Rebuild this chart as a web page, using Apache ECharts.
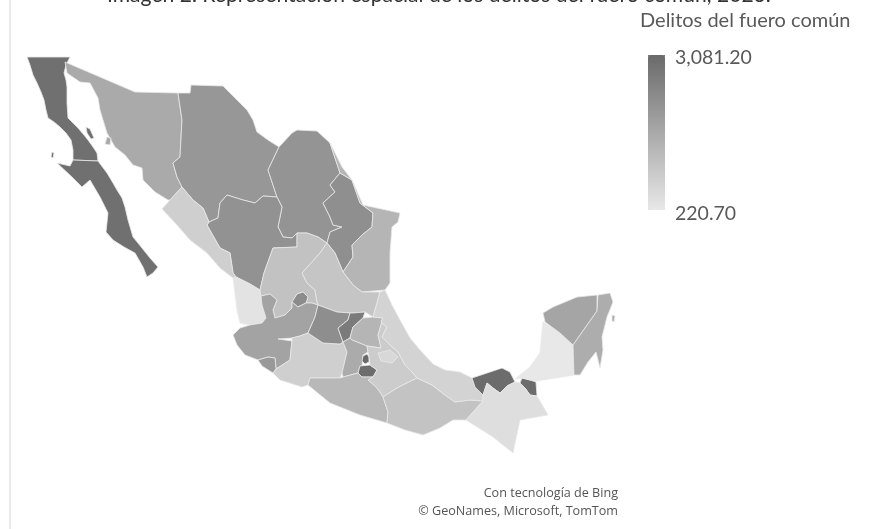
<!DOCTYPE html>
<html><head><meta charset="utf-8">
<style>html,body{margin:0;padding:0;background:#fff;overflow:hidden}#c{width:870px;height:529px}#c canvas{filter:blur(.7px)}</style>
<script src="https://cdn.jsdelivr.net/npm/echarts@6/dist/echarts.min.js"></script>
</head><body><div id="c"></div>
<script>
const chartTitle = 'Imagen 2. Representación espacial de los delitos del fuero común, 2023.';
const legendTitle = 'Delitos del fuero común';
const legendMaxLabel = '3,081.20';
const legendMinLabel = '220.70';
const creditLines = ['Con tecnología de Bing', '© GeoNames, Microsoft, TomTom'];
const minValue = 220.7;
const maxValue = 3081.2;

const states = ['Baja California','Baja California Sur','Sonora','Chihuahua','Coahuila','Nuevo León','Tamaulipas','Durango','Sinaloa','Nayarit','Zacatecas','San Luis Potosí','Aguascalientes','Jalisco','Colima','Michoacán','Guanajuato','Querétaro','Hidalgo','México','Ciudad de México','Morelos','Puebla','Tlaxcala','Guerrero','Oaxaca','Veracruz','Tabasco','Chiapas','Campeche','Yucatán','Quintana Roo'];
const crimes = [2950,2950,1628,2060,2128,2241,1379,2173,789,335,1084,1016,2309,1787,2014,789,2264,2695,1379,1606,3081.2,3013,857,584,1311,1061,698,3030,448,220.7,1742,1560];

// Traced state outlines, in map units (one list of rings per state)
const outlines = {
'Baja California':[[[27,57],[70,57],[66,65],[64,73],[66,80],[67,87],[67,103],[68,118],[74,124],[78,128],[84,135],[88,140],[93,147],[97,153],[98,161],[73,160],[73,150],[71,140],[66,133],[60,127],[54,122],[48,118],[46,110],[44,100],[41,92],[37,83],[33,75],[30,65]],[[86,127],[90,129],[94,138],[91,139],[87,133]],[[52,152],[54,153],[53,158],[51,157]]],
'Baja California Sur':[[[73,160],[98,161],[107,173],[113,183],[117,190],[122,198],[125,207],[128,220],[133,237],[138,243],[142,248],[150,258],[158,267],[153,273],[147,277],[143,267],[135,253],[124,247],[113,240],[106,232],[108,213],[100,197],[90,180],[82,187],[72,177],[57,163],[70,166]]],
'Sonora':[[[65,62],[100,77],[135,92],[178,93],[182,120],[180,157],[173,163],[177,177],[182,187],[170,200],[168,200],[155,192],[143,180],[142,168],[133,165],[125,155],[115,147],[107,133],[103,120],[100,110],[98,98],[90,83],[80,82],[67,73]],[[107,137],[111,138],[110,145],[105,144]]],
'Chihuahua':[[[178,93],[190,93],[191,85],[223,86],[240,103],[247,110],[253,120],[257,132],[268,140],[279,147],[268,170],[277,197],[263,196],[255,203],[243,200],[227,195],[220,203],[218,218],[209,222],[203,208],[193,200],[182,187],[177,177],[173,163],[180,157],[182,120]]],
'Coahuila':[[[279,147],[292,133],[297,130],[317,131],[330,143],[340,173],[330,185],[335,192],[323,203],[330,217],[333,225],[342,227],[330,232],[327,243],[318,237],[307,233],[297,233],[292,238],[283,237],[278,227],[282,207],[277,197],[268,170]]],
'Nuevo León':[[[340,173],[352,180],[360,203],[373,213],[372,227],[362,235],[352,245],[353,257],[343,272],[335,253],[327,243],[330,232],[342,227],[333,225],[330,217],[323,203],[335,192],[330,185]]],
'Tamaulipas':[[[330,143],[342,167],[352,180],[363,205],[400,213],[398,222],[392,227],[390,253],[390,283],[385,290],[362,292],[353,285],[343,272],[353,257],[352,245],[362,235],[372,227],[373,213],[360,203],[352,180],[340,173]]],
'Durango':[[[209,222],[218,218],[220,203],[227,195],[243,200],[255,203],[263,196],[277,197],[282,207],[278,227],[283,237],[292,238],[297,233],[297,247],[273,248],[264,273],[260,290],[250,284],[236,277],[233,273],[230,253],[220,248],[207,225]]],
'Sinaloa':[[[162,209],[170,200],[182,187],[193,200],[203,208],[209,222],[207,225],[220,248],[230,253],[233,273],[236,277],[233,278],[220,268],[207,253],[190,240],[177,225]]],
'Nayarit':[[[233,278],[236,277],[250,284],[260,290],[261,296],[262,305],[266,318],[262,323],[250,325],[240,323],[237,310],[235,293]]],
'Zacatecas':[[[260,290],[264,273],[273,248],[297,247],[297,233],[307,233],[318,237],[327,243],[320,253],[302,273],[307,283],[315,290],[317,302],[318,305],[312,303],[306,303],[308,297],[303,292],[297,294],[292,302],[292,308],[285,315],[275,318],[273,310],[277,300],[270,294],[261,296]]],
'San Luis Potosí':[[[327,243],[335,253],[343,272],[353,285],[362,292],[380,292],[377,303],[373,317],[365,312],[353,313],[350,313],[337,312],[318,305],[317,302],[315,290],[307,283],[302,273],[320,253]]],
'Aguascalientes':[[[297,294],[303,292],[308,297],[306,303],[298,307],[292,302]]],
'Jalisco':[[[233,335],[240,328],[250,325],[262,323],[266,318],[262,305],[261,296],[270,294],[277,300],[273,310],[275,318],[285,315],[292,308],[292,302],[298,307],[306,303],[312,303],[318,305],[315,317],[308,333],[300,336],[292,338],[278,339],[292,341],[290,360],[276,369],[275,358],[268,357],[258,360],[245,355],[237,345]]],
'Colima':[[[258,360],[268,357],[275,358],[276,369],[273,373],[262,366]]],
'Michoacán':[[[292,338],[300,336],[308,333],[323,343],[340,344],[343,342],[347,352],[342,373],[340,378],[310,378],[308,385],[302,387],[280,380],[273,373],[276,369],[290,360],[292,341]]],
'Guanajuato':[[[318,305],[337,312],[350,313],[348,320],[338,328],[343,342],[340,344],[323,343],[308,333],[315,317]]],
'Querétaro':[[[350,313],[353,313],[365,312],[363,318],[353,327],[350,338],[343,342],[338,328],[348,320]]],
'Hidalgo':[[[363,318],[373,317],[383,318],[378,335],[381,348],[367,346],[352,340],[350,338],[353,327]]],
'México':[[[352,340],[367,346],[368,352],[363,355],[362,366],[360,366],[358,373],[343,377],[342,373],[347,352],[343,342],[350,338]]],
'Ciudad de México':[[[363,356],[367,354],[369,357],[369,362],[365,364],[362,361]]],
'Morelos':[[[360,366],[370,365],[377,370],[373,377],[362,377],[358,373]]],
'Puebla':[[[383,318],[381,322],[387,327],[382,337],[390,345],[398,352],[405,365],[412,372],[417,378],[397,388],[383,397],[377,388],[368,380],[373,377],[377,370],[370,365],[369,357],[368,352],[367,346],[381,348],[378,335]]],
'Tlaxcala':[[[378,353],[390,350],[398,357],[392,363],[381,361]]],
'Guerrero':[[[310,378],[340,378],[343,377],[358,373],[362,377],[373,377],[368,380],[377,388],[383,397],[388,412],[387,423],[360,415],[330,403],[308,385]]],
'Oaxaca':[[[383,397],[397,388],[417,378],[432,385],[445,395],[455,402],[470,400],[483,401],[466,420],[453,420],[440,428],[423,435],[405,430],[387,423],[388,412]]],
'Veracruz':[[[380,292],[385,290],[392,305],[400,320],[410,338],[420,350],[433,364],[445,370],[460,372],[472,378],[475,387],[483,395],[483,401],[470,400],[455,402],[445,395],[432,385],[417,378],[412,372],[405,365],[398,352],[390,345],[382,337],[387,327],[381,322],[383,318],[373,317],[377,303]]],
'Tabasco':[[[472,378],[487,373],[502,368],[510,372],[515,382],[507,386],[500,393],[493,388],[487,383],[483,395],[475,387]],[[522,378],[530,380],[536,382],[537,396],[530,395],[525,388],[520,383]]],
'Chiapas':[[[483,401],[483,395],[487,383],[493,388],[500,393],[507,386],[515,382],[520,383],[525,388],[530,395],[537,396],[548,415],[520,420],[513,453],[493,437],[466,420]]],
'Campeche':[[[530,367],[540,353],[543,322],[560,333],[573,345],[574,375],[537,381],[530,380],[522,378],[515,379]]],
'Yucatán':[[[543,313],[553,307],[577,297],[597,295],[597,311],[573,345],[560,333],[545,322]]],
'Quintana Roo':[[[598,295],[610,293],[613,302],[607,317],[602,337],[603,350],[600,368],[596,352],[588,362],[580,375],[574,375],[573,345],[597,311]],[[612,315],[615,316],[614,322],[612,321]]]
};

const mexico = {
  type: 'FeatureCollection',
  features: states.map(name => ({
    type: 'Feature',
    properties: { name },
    geometry: {
      type: 'MultiPolygon',
      coordinates: outlines[name].map(ring => [ring.concat([ring[0]]).map(p => [p[0], -p[1]])])
    }
  }))
};
echarts.registerMap('mexico', mexico);

const chart = echarts.init(document.getElementById('c'), null, { renderer: 'canvas' });
const sans = 'Lato, "Open Sans", sans-serif';
chart.setOption({
  animation: false,
  backgroundColor: '#ffffff',
  title: [
    { text: chartTitle, left: 107, top: -15, padding: 0, textStyle: { fontFamily: sans, fontSize: 21.1, fontWeight: 'normal', color: '#333' } },
    { text: legendTitle, left: 640, top: 11, padding: 0, textStyle: { fontFamily: sans, fontSize: 20, fontWeight: 'normal', color: '#595959' } },
    { text: legendMaxLabel, left: 675, top: 48, padding: 0, textStyle: { fontFamily: sans, fontSize: 19.5, fontWeight: 'normal', color: '#595959' } },
    { text: legendMinLabel, left: 675, top: 204, padding: 0, textStyle: { fontFamily: sans, fontSize: 19.5, fontWeight: 'normal', color: '#595959' } },
    { text: creditLines[0], right: 252, top: 487, padding: 0, textStyle: { fontFamily: '"Open Sans", sans-serif', fontSize: 12.6, fontWeight: 'normal', color: '#555' } },
    { text: creditLines[1], right: 252, top: 505, padding: 0, textStyle: { fontFamily: '"Open Sans", sans-serif', fontSize: 12.6, fontWeight: 'normal', color: '#555' } }
  ],
  visualMap: {
    type: 'continuous', min: minValue, max: maxValue, seriesIndex: 0, left: 648, top: 55,
    itemWidth: 17, itemHeight: 155, padding: 0, text: null, calculable: false, hoverLink: false,
    inRange: { color: ['#e8e8e8', '#6a6a6a'] }
  },
  graphic: [
    { type: 'line', shape: { x1: 10, y1: 0, x2: 10, y2: 529 }, style: { stroke: '#e9e9e9', lineWidth: 2 }, silent: true },
    { type: 'rect', shape: { x: 648, y: 55, width: 17, height: 4 }, style: { fill: '#6a6a6a' }, silent: true },
    { type: 'rect', shape: { x: 648, y: 206, width: 17, height: 4 }, style: { fill: '#e8e8e8' }, silent: true }
  ],
  series: [{
    type: 'map', map: 'mexico', aspectScale: 1, roam: false,
    layoutCenter: [321, 255], layoutSize: 588,
    selectedMode: false, silent: true,
    label: { show: false },
    itemStyle: { borderColor: '#e8e8e8', borderWidth: 0.8 },
    data: states.map((name, i) => ({ name, value: crimes[i] }))
  }]
});
</script></body></html>
